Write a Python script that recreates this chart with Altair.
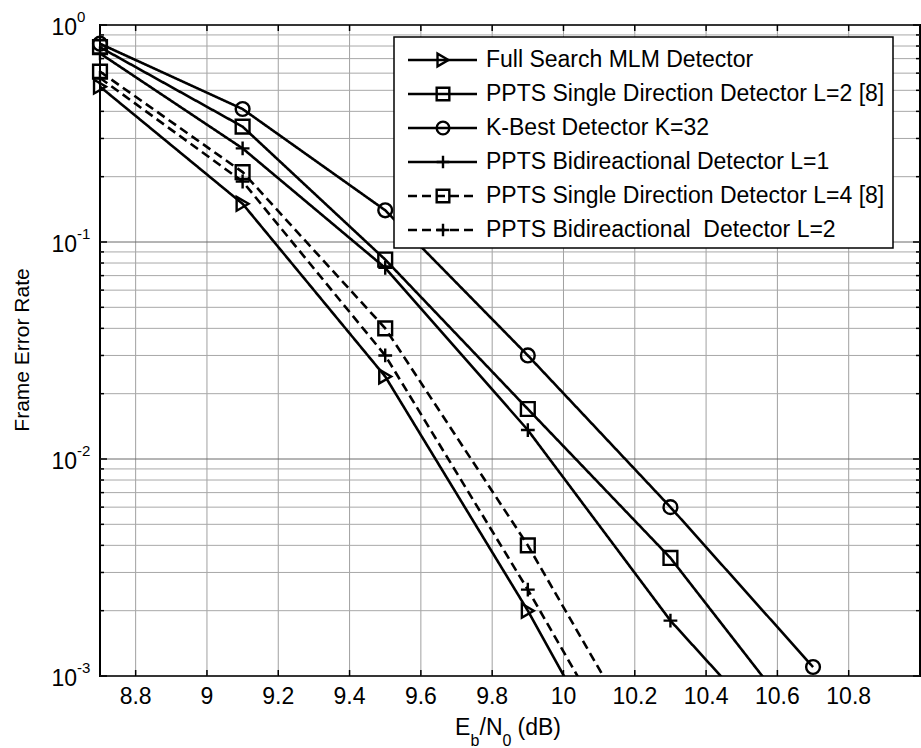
import altair as alt
import pandas as pd

# Eb/N0 operating points (dB)
ebn0 = [8.7, 9.1, 9.5, 9.9, 10.3, 10.7]

series_names = [
    "Full Search MLM Detector",
    "PPTS Single Direction Detector L=2 [8]",
    "K-Best Detector K=32",
    "PPTS Bidireactional Detector L=1",
    "PPTS Single Direction Detector L=4 [8]",
    "PPTS Bidireactional \u00a0Detector L=2",
]

# frame error rate per detector (last points run below the plotted range)
fer_mlm = [0.52, 0.15, 0.024, 0.0020, 1.3e-4]
fer_sd2 = [0.79, 0.34, 0.083, 0.017, 0.0035, 5.0e-4]
fer_kbest = [0.82, 0.41, 0.14, 0.030, 0.0060, 0.0011]
fer_bi1 = [0.74, 0.27, 0.076, 0.0136, 0.0018, 3.4e-4]
fer_sd4 = [0.61, 0.21, 0.040, 0.0040, 2.9e-4]
fer_bi2 = [0.57, 0.19, 0.030, 0.0025, 1.8e-4]

all_fer = [fer_mlm, fer_sd2, fer_kbest, fer_bi1, fer_sd4, fer_bi2]

PLUS = "M-1,0L1,0M0,-1L0,1"
marker_shapes = ["triangle-right", "square", "circle", PLUS, "square", PLUS]
line_dashes = [[1, 0], [1, 0], [1, 0], [1, 0], [9, 5], [9, 5]]

x_ticks = [8.8, 9.0, 9.2, 9.4, 9.6, 9.8, 10.0, 10.2, 10.4, 10.6, 10.8]
x_tick_labels = ["8.8", "9", "9.2", "9.4", "9.6", "9.8", "10", "10.2", "10.4", "10.6", "10.8"]
y_major = [1.0, 0.1, 0.01, 0.001]
y_exponents = ["0", "-1", "-2", "-3"]
y_minor = [k * d for d in (0.001, 0.01, 0.1) for k in range(2, 10)]

FONT = "Liberation Sans"
FS = 23
W, H = 820, 651

rows = []
for name, fers in zip(series_names, all_fer):
    for x, v in zip(ebn0, fers):
        rows.append({"name": name, "ebn0": x, "fer": v})
df = pd.DataFrame(rows)

xscale = alt.Scale(domain=[8.7, 11.0], nice=False, zero=False)
yscale = alt.Scale(type="log", domain=[0.001, 1], nice=False)
dash_scale = alt.Scale(domain=series_names, range=line_dashes)
shape_scale = alt.Scale(domain=series_names, range=marker_shapes)

X = lambda f: alt.X(f, scale=xscale, axis=None)
Y = lambda f: alt.Y(f, scale=yscale, axis=None)

one = alt.Chart(pd.DataFrame({"k": [0]}))
df_xt = pd.DataFrame({"t": x_ticks, "lab": x_tick_labels})
df_major = pd.DataFrame({"v": y_major, "e": y_exponents})
df_minor = pd.DataFrame({"v": y_minor})

# grid
grid_x = alt.Chart(df_xt).mark_rule(color="#a0a0a0", strokeWidth=1).encode(
    x=X("t:Q"), y=alt.value(0), y2=alt.value(H)
)
grid_minor = alt.Chart(df_minor).mark_rule(color="#a8a8a8", strokeWidth=1).encode(
    y=Y("v:Q"), x=alt.value(0), x2=alt.value(W)
)
grid_major = alt.Chart(df_major).mark_rule(color="#6a6a6a", strokeWidth=1).encode(
    y=Y("v:Q"), x=alt.value(0), x2=alt.value(W)
)

# inward ticks on all four sides
tick_bottom = alt.Chart(df_xt).mark_rule(color="black", strokeWidth=1.5).encode(
    x=X("t:Q"), y=alt.value(H), y2=alt.value(H - 6)
)
tick_top = alt.Chart(df_xt).mark_rule(color="black", strokeWidth=1.5).encode(
    x=X("t:Q"), y=alt.value(0), y2=alt.value(6)
)
tick_left_major = alt.Chart(df_major).mark_rule(color="black", strokeWidth=1.5).encode(
    y=Y("v:Q"), x=alt.value(0), x2=alt.value(7)
)
tick_right_major = alt.Chart(df_major).mark_rule(color="black", strokeWidth=1.5).encode(
    y=Y("v:Q"), x=alt.value(W), x2=alt.value(W - 7)
)
tick_left_minor = alt.Chart(df_minor).mark_rule(color="black", strokeWidth=1.5).encode(
    y=Y("v:Q"), x=alt.value(0), x2=alt.value(4)
)
tick_right_minor = alt.Chart(df_minor).mark_rule(color="black", strokeWidth=1.5).encode(
    y=Y("v:Q"), x=alt.value(W), x2=alt.value(W - 4)
)

# curves
lines = alt.Chart(df).mark_line(clip=True, color="black", strokeWidth=2.6).encode(
    x=X("ebn0:Q"),
    y=Y("fer:Q"),
    detail="name:N",
    strokeDash=alt.StrokeDash("name:N", scale=dash_scale, legend=None),
    order="ebn0:Q",
)
points = alt.Chart(df).transform_filter("datum.fer >= 0.001").mark_point(
    filled=False, color="black", strokeWidth=2.4, size=190, opacity=1
).encode(
    x=X("ebn0:Q"),
    y=Y("fer:Q"),
    shape=alt.Shape("name:N", scale=shape_scale, legend=None),
)

# legend
legend_box = one.mark_rect(fill="white", stroke="black", strokeWidth=1.5).encode(
    x=alt.value(294), x2=alt.value(793), y=alt.value(12), y2=alt.value(223)
)
legend_layers = []
df_leg = pd.DataFrame({"name": series_names})
for i, name in enumerate(series_names):
    yy = 35 + 34 * i
    sub = alt.Chart(df_leg).transform_filter(alt.datum.name == name)
    legend_layers.append(sub.mark_rule(color="black", strokeWidth=2.6).encode(
        x=alt.value(308), x2=alt.value(377), y=alt.value(yy),
        strokeDash=alt.StrokeDash("name:N", scale=dash_scale, legend=None),
    ))
    legend_layers.append(sub.mark_point(
        filled=False, color="black", strokeWidth=2.4, size=160, opacity=1
    ).encode(
        x=alt.value(343), y=alt.value(yy),
        shape=alt.Shape("name:N", scale=shape_scale, legend=None),
    ))
    legend_layers.append(sub.mark_text(
        align="left", baseline="middle", font=FONT, fontSize=FS, color="black"
    ).encode(x=alt.value(386), y=alt.value(yy), text="name:N"))

# x tick labels
xlab = alt.Chart(df_xt).mark_text(
    align="center", baseline="middle", font=FONT, fontSize=FS, color="black"
).encode(x=X("t:Q"), y=alt.value(H + 21), text="lab:N")

# y tick labels as powers of ten
ylab_base = alt.Chart(df_major).mark_text(
    align="right", baseline="middle", font=FONT, fontSize=FS, color="black", dy=3
).encode(y=Y("v:Q"), x=alt.value(-23), text=alt.value("10"))
ylab_exp = alt.Chart(df_major).mark_text(
    align="left", baseline="middle", font=FONT, fontSize=15, color="black", dy=-8
).encode(y=Y("v:Q"), x=alt.value(-23), text="e:N")

# axis titles
y_title = one.mark_text(
    angle=270, align="center", baseline="middle", font=FONT, fontSize=21, color="black"
).encode(x=alt.value(-77), y=alt.value(325), text=alt.value("Frame Error Rate"))

x_title_parts = [
    ("E", 355, 710, FS),
    ("b", 370.5, 721, 16),
    ("/N", 379.5, 710, FS),
    ("0", 402.5, 721, 16),
    ("(dB)", 417.5, 710, FS),
]
x_title = [
    one.mark_text(align="left", baseline="alphabetic", font=FONT, fontSize=fs, color="black")
    .encode(x=alt.value(px), y=alt.value(py), text=alt.value(t))
    for t, px, py, fs in x_title_parts
]

chart = alt.layer(
    grid_x, grid_minor, grid_major,
    lines, points,
    tick_bottom, tick_top, tick_left_major, tick_right_major, tick_left_minor, tick_right_minor,
    legend_box, *legend_layers,
    xlab, ylab_base, ylab_exp, y_title, *x_title,
).properties(
    width=W, height=H,
    autosize=alt.AutoSizeParams(type="none"),
    padding={"left": 100, "top": 25, "right": 1, "bottom": 72},
    background="white",
).configure_view(stroke="black", strokeWidth=2, fill="white")

chart.save("out.html", embed_options={"renderer": "svg", "actions": False})
